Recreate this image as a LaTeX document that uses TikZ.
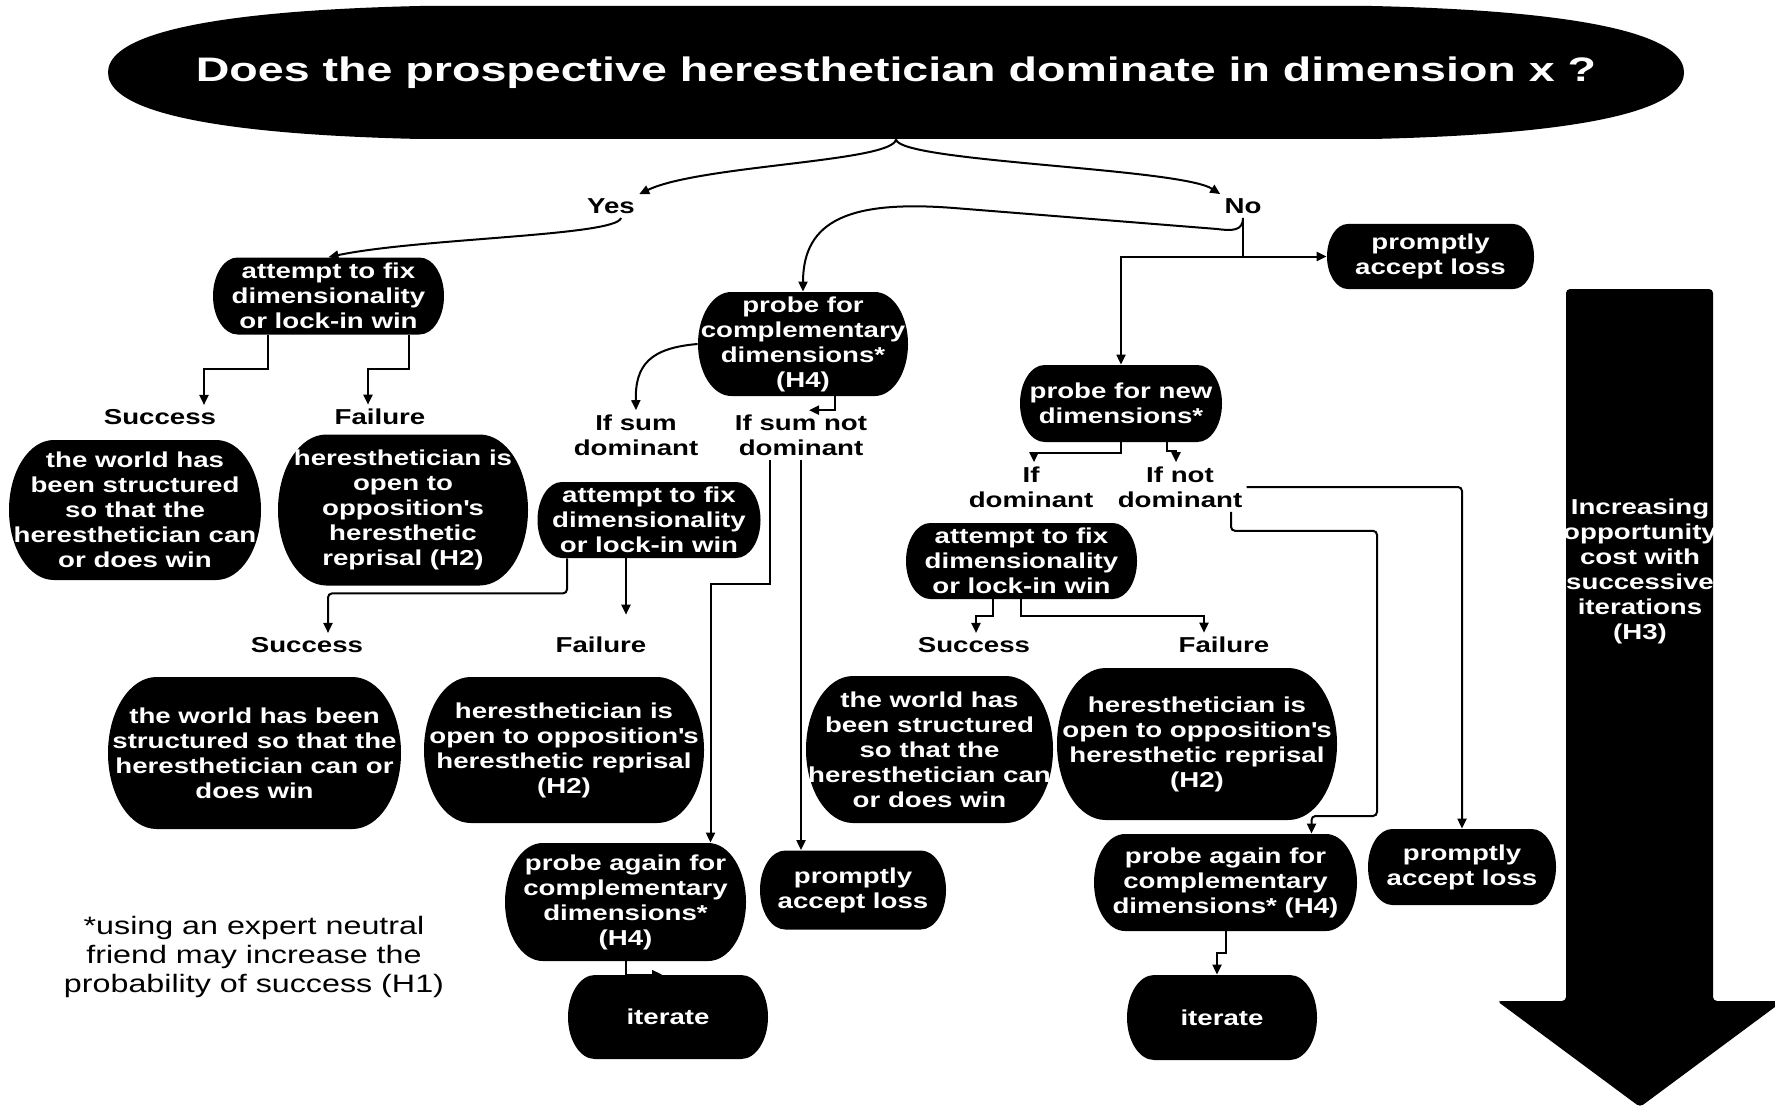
\documentclass[tikz,border=0pt]{standalone}
\usepackage{fontspec}
\setmainfont{Liberation Sans}[FakeStretch=1.28]
\newfontfamily\titlefont{Liberation Sans}[FakeStretch=1.37]
\usetikzlibrary{arrows.meta,calc}
\newcommand\apos{\XeTeXglyph\XeTeXcharglyph"27\relax}

\begin{document}
\begin{tikzpicture}[x=0.5pt, y=-0.5pt,
    every node/.style={font=\bfseries\fontsize{10.8}{12.5}\selectfont},
    box/.style={rectangle, inner sep=0pt, text=white, align=center,
        path picture={\fill let \p1=(path picture bounding box.south west), \p2=(path picture bounding box.north east),
            \n1={0.32*(\y2-\y1)}, \n2={0.5*(\y2-\y1)} in
            (\x1+\n1*1pt,\y2) arc[start angle=90, end angle=270, x radius=\n1*1pt, y radius=\n2*1pt]
            -- (\x2-\n1*1pt,\y1) arc[start angle=-90, end angle=90, x radius=\n1*1pt, y radius=\n2*1pt] -- cycle;}},
    wh/.style 2 args={minimum width=#1*0.5pt, minimum height=#2*0.5pt},
    lbl/.style={align=center, inner sep=2pt},
    arr/.style={line width=1pt, -{Triangle[length=5pt,width=4.5pt]}}]
    \useasboundingbox (0,0) rectangle (1775,1107);
    \clip (0,0) rectangle (1775,1107);

    % question
    \fill (108,72.5) .. controls (108,45) and (160,12) .. (420,6) -- (1372,6) .. controls (1632,12) and (1684,45) .. (1684,72.5)
        .. controls (1684,100) and (1632,133) .. (1372,139) -- (420,139) .. controls (160,133) and (108,100) .. (108,72.5) -- cycle;
    \node[text=white, inner sep=0pt, wh={1576}{133}, font=\titlefont\bfseries\fontsize{17}{20}\selectfont] (q) at (896,72.5) {Does the prospective heresthetician dominate in dimension x ?};

    \node[lbl] (yes) at (611,206) {Yes};
    \node[lbl] (no) at (1243,206) {No};

    % yes branch
    \node[box, wh={231}{77}] (fix1) at (328.5,296) {attempt to fix\\dimensionality\\or lock-in win};
    \node[lbl] (succ1) at (160,417) {Success};
    \node[lbl] (fail1) at (380,417) {Failure};
    \node[box, wh={252}{140}] (world1) at (135,510) {the world has\\been structured\\so that the\\heresthetician can\\or does win};
    \node[box, wh={250}{151}] (repr1) at (403,510) {heresthetician is\\open to\\opposition\apos s\\heresthetic\\reprisal (H2)};

    % complementary dimensions
    \node[box, wh={210}{104}] (probe1) at (803,344) {probe for\\complementary\\dimensions*\\(H4)};
    \node[lbl] (ifsum) at (636,435) {If sum\\dominant};
    \node[lbl] (ifnot1) at (801,435) {If sum not\\dominant};
    \node[box, wh={223}{76}] (fix2) at (649,520) {attempt to fix\\dimensionality\\or lock-in win};
    \node[lbl] (succ2) at (307,645) {Success};
    \node[lbl] (fail2) at (601,645) {Failure};
    \node[box, wh={293}{152}] (world2) at (254.5,753) {the world has been\\structured so that the\\heresthetician can or\\does win};
    \node[box, wh={280}{146}] (repr2) at (564,750) {heresthetician is\\open to opposition\apos s\\heresthetic reprisal\\(H2)};
    \node[box, wh={241}{118}] (again1) at (625.5,902) {probe again for\\complementary\\dimensions*\\(H4)};
    \node[box, wh={200}{84}] (iter1) at (668,1017) {iterate};
    \node[box, wh={186}{79}] (loss2) at (853,890) {promptly\\accept loss};

    % no branch
    \node[box, wh={207}{65}] (loss1) at (1430.5,256.5) {promptly\\accept loss};
    \node[box, wh={202}{77}] (probe2) at (1121,403.5) {probe for new\\dimensions*};
    \node[lbl] (ifdom) at (1031,487) {If\\dominant};
    \node[lbl] (ifnot2) at (1180,487) {If not\\dominant};
    \node[box, wh={231}{76}] (fix3) at (1021.5,561) {attempt to fix\\dimensionality\\or lock-in win};
    \node[lbl] (succ3) at (974,645) {Success};
    \node[lbl] (fail3) at (1224,645) {Failure};
    \node[box, wh={247}{147}] (world3) at (929.5,749.5) {the world has\\been structured\\so that the\\heresthetician can\\or does win};
    \node[box, wh={280}{152}] (repr3) at (1197,744) {heresthetician is\\open to opposition\apos s\\heresthetic reprisal\\(H2)};
    \node[box, wh={263}{97}] (again2) at (1225.5,882.5) {probe again for\\complementary\\dimensions* (H4)};
    \node[box, wh={190}{85}] (iter2) at (1222,1017.5) {iterate};
    \node[box, wh={188}{76}] (loss3) at (1462,867) {promptly\\accept loss};

    % cost arrow
    \fill[rounded corners=2] (1566,289) -- (1713,289) -- (1713,1001) -- (1783,1001) -- (1640,1107) -- (1497,1001) -- (1566,1001) -- cycle;
    \node[text=white, align=center] (cost) at (1640,571) {Increasing\\opportunity\\cost with\\successive\\iterations\\(H3)};

    \node[align=center, font=\fontsize{12.6}{14.5}\selectfont] (note) at (254,957) {*using an expert neutral\\friend may increase the\\probability of success (H1)};

    % connectors
    \draw[arr] (q.south) .. controls (893,162) and (700,165) .. (yes.north east);
    \draw[arr] (q.south) .. controls (899,162) and (1180,168) .. (no.north west);
    \draw[arr] ([shift={(10,0)}]yes.south) .. controls (617,236) and (420,238) .. (fix1.north);
    \draw[arr] (no.south) .. controls (1243,231) and (1232,231) .. (1217,229) -- (954,208) .. controls (850,200) and (803,220) .. (probe1.north);
    \draw[arr] (no.south) |- (loss1.west);
    \draw[arr] (no.south) |- (probe2.north |- loss1.west) -- (probe2.north);

    \draw[arr] ([shift={(-61,0)}]fix1.south) -- ++(0,34) -| ([shift={(44,0)}]succ1.north);
    \draw[arr] ([shift={(80,0)}]fix1.south) -- ++(0,34) -| ([shift={(-12,0)}]fail1.north);

    \draw[arr] (probe1.west) .. controls (650,348) and (635,365) .. (ifsum.north);
    \draw[arr] ([shift={(32,0)}]probe1.south) |- ([shift={(8,0)}]ifnot1.north);
    \draw[arr] ([shift={(-31,0)}]ifnot1.south) -- ++(0,124) -| ([shift={(85,0)}]again1.north);
    \draw[arr] (ifnot1.south) -- (ifnot1.south |- loss2.north);
    \draw[arr, rounded corners=2] ([shift={(-82,0)}]fix2.south) -- ++(0,35) -| ([shift={(21,0)}]succ2.north);
    \draw[arr] ([shift={(-23,0)}]fix2.south) -- ([shift={(25,-18)}]fail2.north);
    \draw[arr] (again1.south) |- ([shift={(-6,0)}]iter1.north);

    \draw[arr] (probe2.south) -- ++(0,11) -| ([shift={(3,0)}]ifdom.north);
    \draw[arr] ([shift={(46,0)}]probe2.south) -- ++(0,9) -| ([shift={(-4,0)}]ifnot2.north);
    \draw[arr, rounded corners=2] (ifnot2.east) -| (loss3.north);
    \draw[arr, rounded corners=2] ([shift={(51,0)}]ifnot2.south) -- ++(0,19) -| (1377,816) -| ([shift={(86,0)}]again2.north);
    \draw[arr] ([shift={(-29,0)}]fix3.south) -- ++(0,17) -| ([shift={(2,0)}]succ3.north);
    \draw[arr] ([shift={(-1,0)}]fix3.south) -- ++(0,17) -| ([shift={(-20,0)}]fail3.north);
    \draw[arr] (again2.south) -- ++(0,22) -| ([shift={(-5,0)}]iter2.north);
\end{tikzpicture}
\end{document}
